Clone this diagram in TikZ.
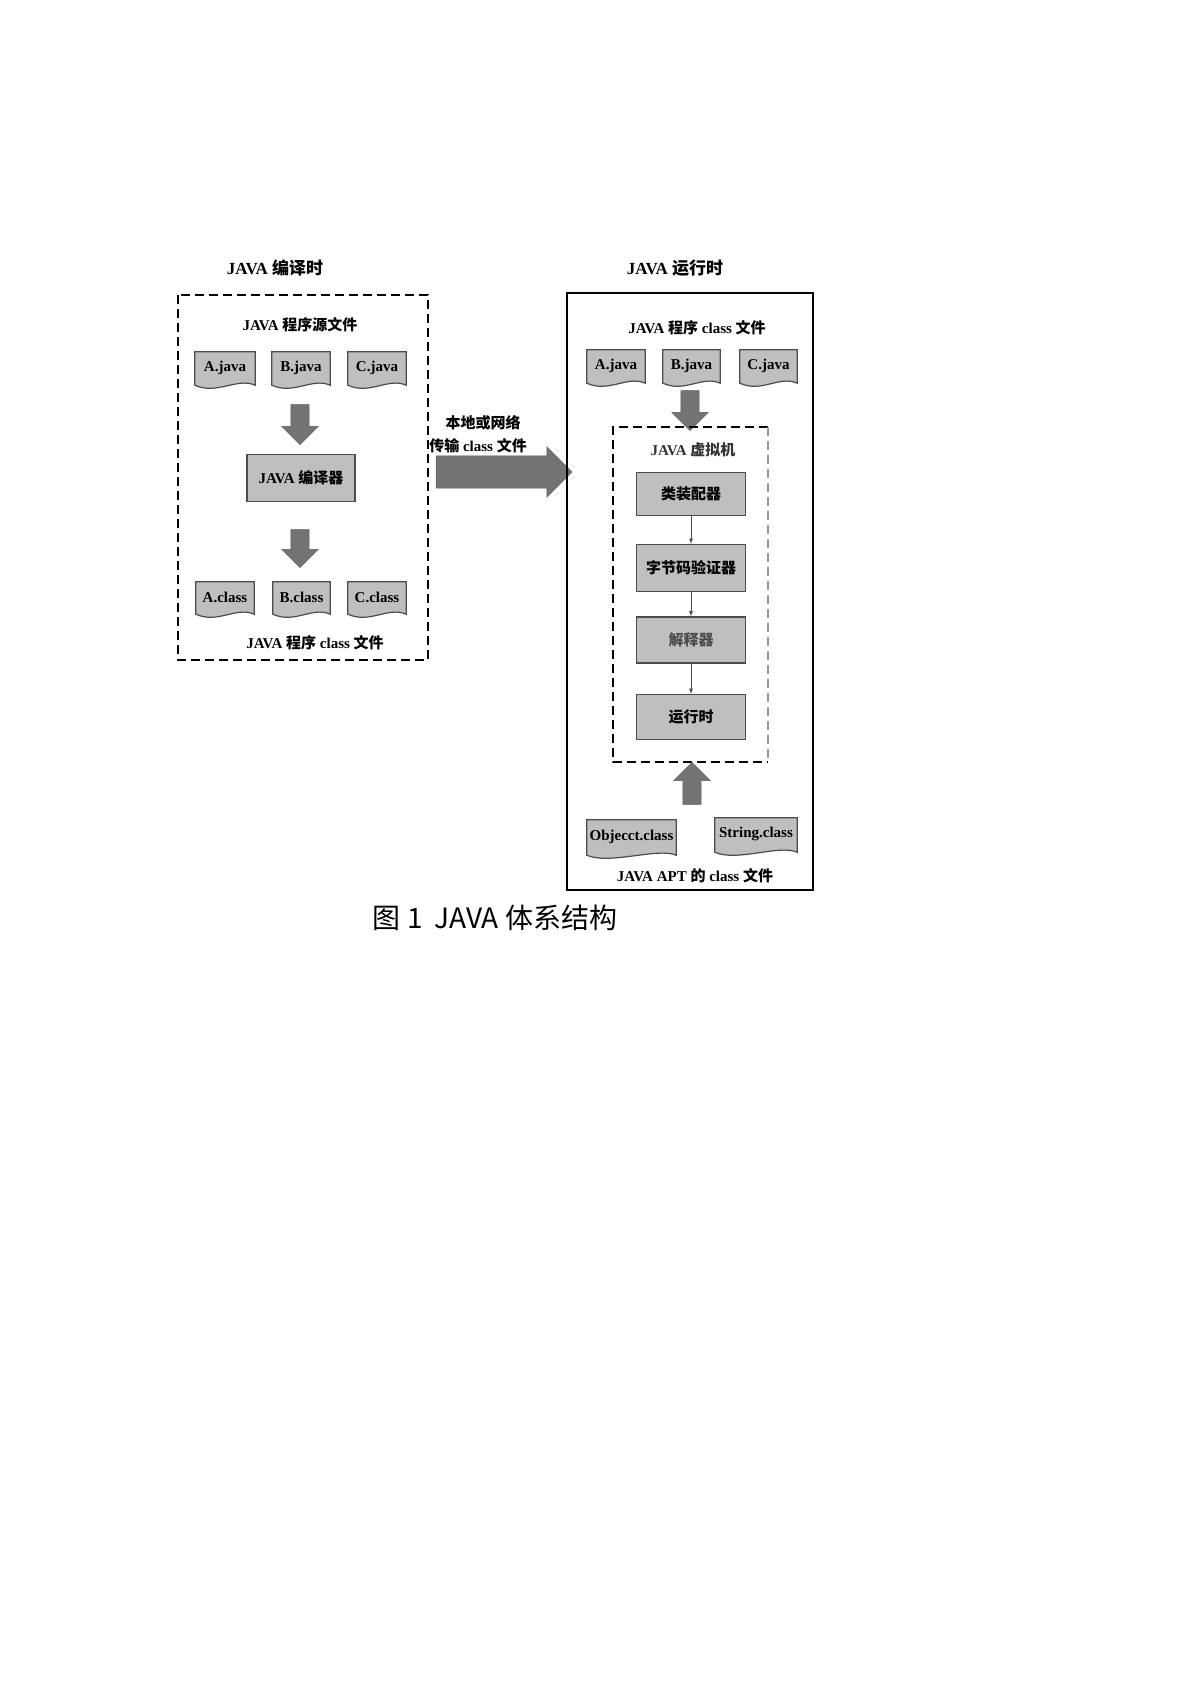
\documentclass[tikz,border=0pt]{standalone}
\usepackage{fontspec}
\setmainfont{Liberation Serif}
\newfontfamily\cjk{Noto Sans CJK SC}
\newfontfamily\capfont{Noto Sans CJK SC}
\usetikzlibrary{shapes.arrows,calc}
\tikzset{
 ttl/.style={font=\bfseries\fontsize{17}{19}\selectfont},
 lbl/.style={font=\bfseries\fontsize{15}{17}\selectfont},
 docnode/.style={inner sep=0pt,font=\bfseries\fontsize{15}{17}\selectfont},
 proc/.style={draw=black!70,line width=1.2pt,fill=black!25,font=\bfseries\fontsize{15}{17}\selectfont},
 fat/.style={single arrow,fill=black!55,draw=black!65,inner xsep=0pt,inner ysep=9pt,single arrow head extend=9pt},
 thin/.style={-latex,black!70,line width=0.8pt}
}
\newcommand\docsh[6]{% name, x1,y1,x2,y2,text
 \node[docnode,minimum width={#4-#2},minimum height={#5-#3}] (#1) at ({(#2+#4)/2},{(#3+#5)/2}) {};
 \filldraw[fill=black!25,draw=black!70,line width=1.2pt] (#1.south west) -- (#1.north west) -- (#1.north east) -- (#1.south east)
   .. controls +(-18,-8) and +(22,10) .. (#1.south west) -- cycle;
 \node[docnode] at ($(#1.center)+(0,-1)$) {#6};
}
\begin{document}
\begin{tikzpicture}[x=1pt,y=-1pt]
\useasboundingbox (0,0) rectangle (1192,1685);
\node[ttl] (lt) at (275,268) {JAVA {\cjk 编译时}};
\draw[dash pattern=on 9pt off 5pt,line width=2pt] (178,295) rectangle (428,660);
\node[lbl] (ls) at (300,325) {JAVA {\cjk 程序源文件}};
\docsh{aj}{195}{352}{255}{385}{A.java}
\docsh{bj}{272}{352}{330}{385}{B.java}
\docsh{cj}{348}{352}{406}{385}{C.java}
\node[fat,rotate=-90,minimum height=40pt] (d1) at (300,420) {};
\node[proc,minimum width=108pt,minimum height=47pt] (comp) at (301,478) {JAVA {\cjk 编译器}};
\node[fat,rotate=-90,minimum height=38pt] (d2) at (300,544) {};
\docsh{ac}{196}{582}{254}{614}{A.class}
\docsh{bc}{273}{582}{330}{614}{B.class}
\docsh{cc}{348}{582}{406}{614}{C.class}
\node[lbl] (lc) at (315,643) {JAVA {\cjk 程序} class {\cjk 文件}};
\node[fat,minimum height=136pt,inner ysep=16pt,single arrow head extend=9pt] (big) at (496,472) {};
\node[lbl] (t1) at (483,423) {\cjk 本地或网络};
\node[lbl] (t2) at (478,446) {{\cjk 传输} class {\cjk 文件}};
\node[ttl] (rt) at (675,268) {JAVA {\cjk 运行时}};
\draw[line width=2.2pt] (567,293) rectangle (813,890);
\node[lbl] (rc) at (697,328) {JAVA {\cjk 程序} class {\cjk 文件}};
\docsh{raj}{587}{350}{645}{383}{A.java}
\docsh{rbj}{663}{350}{720}{383}{B.java}
\docsh{rcj}{740}{350}{797}{383}{C.java}
\node[fat,rotate=-90,minimum height=40pt] (d3) at (690,406) {};
\draw[dash pattern=on 9pt off 5pt,line width=2.4pt] (768,427) -- (613,427) -- (613,762) -- (768,762);
\draw[dash pattern=on 9pt off 5pt,line width=2pt,black!40] (768,427) -- (768,762);
\node[lbl,black!80] (jvm) at (693,450) {JAVA {\cjk 虚拟机}};
\node[proc,minimum width=109pt,minimum height=43pt] (p1) at (691,494) {\cjk 类装配器};
\node[proc,minimum width=109pt,minimum height=47pt] (p2) at (691,568) {\cjk 字节码验证器};
\node[proc,minimum width=109pt,minimum height=46pt] (p3) at (691,640) {\cjk\color{black!70}解释器};
\node[proc,minimum width=109pt,minimum height=45pt] (p4) at (691,717) {\cjk 运行时};
\draw[thin] (p1) -- (p2); \draw[thin] (p2) -- (p3); \draw[thin] (p3) -- (p4);
\node[fat,rotate=90,minimum height=42pt] (u1) at (692,788) {};
\docsh{obj}{587}{820}{676}{855}{Objecct.class}
\docsh{str}{715}{818}{797}{852}{String.class}
\node[lbl] (ra) at (695,876) {JAVA APT {\cjk 的} class {\cjk 文件}};
\node[font=\capfont\fontsize{28}{30}\selectfont] (cap) at (495,918) {图 1\hspace{12pt}JAVA 体系结构};
\end{tikzpicture}
\end{document}
